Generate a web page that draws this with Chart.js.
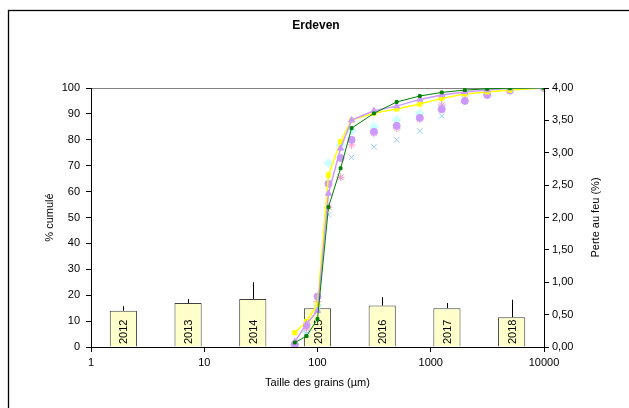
<!DOCTYPE html>
<html>
<head>
<meta charset="utf-8">
<script src="https://cdn.jsdelivr.net/npm/chart.js@4/dist/chart.umd.min.js"></script>
<style>
html,body{margin:0;padding:0;background:#fff;overflow:hidden;}
#wrap{position:absolute;left:0;top:0;width:629px;height:408px;}
</style>
</head>
<body>
<div id="wrap"><canvas id="c" width="629" height="408"></canvas></div>
<script>
// Tailles des tamis (µm)
const sizes = [63, 80, 100, 125, 160, 200, 315, 500, 800, 1250, 2000, 3150, 5000, 10000];
// Courbes cumulées (%)
const serieJaune    = [5.5, 9.8, 16.5, 66.4, 79.3, 87.6, 90.3, 91.9, 93.8, 96.0, 97.7, 98.5, 99.2, 100];
const serieVerte    = [1.7, 4.2, 10.8, 54.0, 69.0, 84.5, 90.2, 94.6, 96.9, 98.3, 99.2, 99.7, 99.9, 100];
const serieViolette = [2.0, 8.9, 14.0, 59.3, 76.7, 87.6, 91.2, 93.0, 95.6, 97.3, 98.5, 99.2, 99.9, 100];
const serieCyan     = [1.0, 6.0, 16.0, 71.0, 78.0, 83.5, 85.0, 87.6, 90.2, 93.0, 97.3, 98.5, 99.5, 100];
const serieRose     = [1.0, 7.0, 17.5, 54.0, 65.5, 78.0, 82.5, 84.5, 88.0, 93.4, 97.8, 98.5, 100, 100];
const serieBleue    = [0.5, 5.0, 15.0, 51.0, 65.5, 73.2, 77.3, 80.0, 83.4, 89.2, 96.6, 98.5, 100, 100];
const serieRonds    = [1.0, 8.5, 19.5, 63.0, 73.0, 80.0, 83.1, 85.4, 88.5, 91.8, 95.0, 97.3, 99.0, 100];
// Perte au feu (%)
const annees = ['2012', '2013', '2014', '2015', '2016', '2017', '2018'];
const perteFeu = [0.56, 0.68, 0.74, 0.60, 0.64, 0.60, 0.46];
const erreurPlus = [0.07, 0.06, 0.26, 0.03, 0.13, 0.08, 0.27];
// Ticks
const xTicks = [1, 10, 100, 1000, 10000];

const FONT = "'Liberation Sans', Arial, sans-serif";
const pts = arr => sizes.map((s, i) => ({x: s, y: arr[i]}));

function lineDs(label, arr, color, style, radius, bw, showLine, order) {
  return {
    type: 'line', label, data: pts(arr), xAxisID: 'x', yAxisID: 'y',
    borderColor: color, backgroundColor: color, borderWidth: bw,
    pointStyle: style, pointRadius: radius, pointBorderColor: color,
    pointBackgroundColor: color, pointBorderWidth: 1, showLine: showLine,
    tension: 0, order: order
  };
}

const decor = {
  id: 'decor',
  beforeDraw(chart) {
    const ctx = chart.ctx;
    ctx.save();
    ctx.fillStyle = '#fff';
    ctx.fillRect(0, 0, chart.width, chart.height);
    ctx.strokeStyle = '#000';
    ctx.lineWidth = 1.3;
    ctx.strokeRect(8.5, 10.5, 700, 500);
    ctx.restore();
  },
  afterDatasetDraw(chart, args) {
    if (args.index !== 0) return;
    const ctx = chart.ctx;
    const meta = args.meta;
    const y2 = chart.scales.y2;
    ctx.save();
    meta.data.forEach((bar, i) => {
      const top = y2.getPixelForValue(perteFeu[i] + erreurPlus[i]);
      ctx.strokeStyle = '#000';
      ctx.lineWidth = 1;
      ctx.beginPath();
      ctx.moveTo(Math.round(bar.x) + 0.5, bar.y);
      ctx.lineTo(Math.round(bar.x) + 0.5, top);
      ctx.stroke();
      ctx.translate(bar.x, chart.chartArea.bottom - 3);
      ctx.rotate(-Math.PI / 2);
      ctx.fillStyle = '#000';
      ctx.font = '11px ' + FONT;
      ctx.textAlign = 'left';
      ctx.textBaseline = 'middle';
      ctx.fillText(annees[i], 0, 1);
      ctx.setTransform(1, 0, 0, 1, 0, 0);
    });
    ctx.restore();
  },
  afterDraw(chart) {
    const ctx = chart.ctx;
    const a = chart.chartArea;
    ctx.save();
    ctx.fillStyle = '#000';
    ctx.font = 'bold 12px ' + FONT;
    ctx.textAlign = 'center';
    ctx.textBaseline = 'middle';
    ctx.fillText('Erdeven', 316, 26);
    ctx.font = '11px ' + FONT;
    ctx.fillText('Taille des grains (µm)', (a.left + a.right) / 2, 383);
    ctx.translate(50, (a.top + a.bottom) / 2);
    ctx.rotate(-Math.PI / 2);
    ctx.fillText('% cumulé', 0, 0);
    ctx.setTransform(1, 0, 0, 1, 0, 0);
    ctx.translate(596, (a.top + a.bottom) / 2);
    ctx.rotate(-Math.PI / 2);
    ctx.fillText('Perte au feu (%)', 0, 0);
    ctx.restore();
  }
};

new Chart(document.getElementById('c'), {
  data: {
    labels: annees,
    datasets: [
      {
        type: 'bar', label: 'Perte au feu', data: perteFeu,
        xAxisID: 'x2', yAxisID: 'y2', grouped: false,
        backgroundColor: '#ffffcc', borderColor: '#404040', borderWidth: 1,
        barPercentage: 0.42, categoryPercentage: 1, order: 10
      },
      lineDs('Cyan', serieCyan, '#ccffff', 'rectRot', 4.5, 1, false, 6),
      lineDs('Bleue', serieBleue, '#99ccff', 'crossRot', 4, 1.5, false, 5),
      lineDs('Rose', serieRose, '#ff99cc', 'star', 4, 1, false, 4),
      lineDs('Ronds', serieRonds, '#cc99ff', 'circle', 3.5, 1, false, 3),
      lineDs('Jaune', serieJaune, '#ffff00', 'rect', 3, 1.5, true, 2),
      lineDs('Violette', serieViolette, '#cc99ff', 'triangle', 3.5, 1.5, true, 1),
      lineDs('Verte', serieVerte, '#008000', 'rect', 2, 1, true, 0)
    ]
  },
  options: {
    responsive: false, animation: false, devicePixelRatio: 1,
    layout: {padding: {top: 88, left: 0, right: 0, bottom: 0}},
    plugins: {legend: {display: false}, tooltip: {enabled: false}},
    scales: {
      x: {
        type: 'logarithmic', position: 'bottom', min: 1, max: 10000,
        afterBuildTicks: s => { s.ticks = xTicks.map(v => ({value: v})); },
        afterFit: s => { s.height = 61; },
        ticks: {color: '#000', font: {family: FONT, size: 11}, padding: 4,
                maxRotation: 0, autoSkip: false, callback: v => String(v)},
        grid: {drawOnChartArea: false, tickLength: 5, tickColor: '#000', color: '#000'},
        border: {color: '#000', width: 1}
      },
      x2: {
        type: 'category', position: 'bottom', display: false, offset: true,
        grid: {display: false}
      },
      y: {
        position: 'left', min: 0, max: 100,
        afterFit: s => { s.width = 91; },
        ticks: {stepSize: 10, color: '#000', font: {family: FONT, size: 11}, padding: 6},
        grid: {
          tickLength: 5, tickColor: '#000',
          color: c => (c.tick && c.tick.value === 100) ? '#808080' : 'rgba(0,0,0,0)'
        },
        border: {color: '#000', width: 1}
      },
      y2: {
        position: 'right', min: 0, max: 4,
        afterFit: s => { s.width = 85; },
        ticks: {stepSize: 0.5, color: '#000', font: {family: FONT, size: 11}, padding: 3,
                callback: v => v.toFixed(2).replace('.', ',')},
        grid: {drawOnChartArea: false, tickLength: 5, tickColor: '#000'},
        border: {color: '#000', width: 1}
      }
    }
  },
  plugins: [decor]
});
</script>
</body>
</html>
